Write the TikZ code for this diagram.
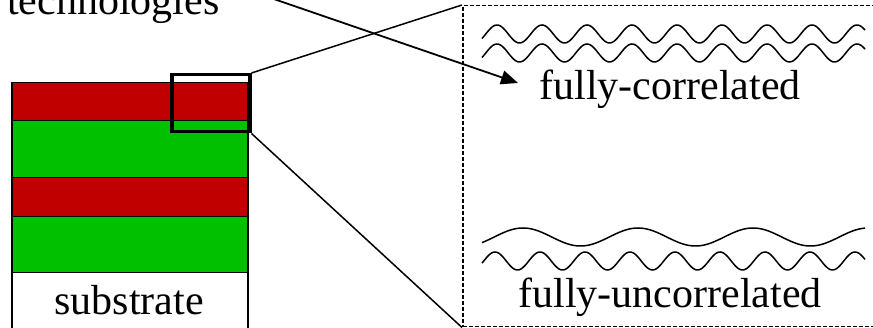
\documentclass[tikz,border=0pt]{standalone}
\usepackage{fontspec}
\setmainfont{Liberation Serif}
\newfontfamily\tnr{Liberation Serif}
\usetikzlibrary{arrows.meta}
\definecolor{layred}{HTML}{C00000}
\definecolor{laygreen}{HTML}{00C000}
\begin{document}
\begin{tikzpicture}[x=1pt,y=-1pt,
  layer/.style={draw=black, line width=1.5pt, minimum width=236pt, inner sep=0pt, anchor=north west},
  lbl/.style={font=\tnr\fontsize{42}{50}\selectfont, inner sep=0pt, anchor=base},
  conn/.style={line width=1.5pt},
  wave/.style={line width=1.5pt, smooth}]
\useasboundingbox (0,0) rectangle (873,328);
\clip (0,0) rectangle (873,328);
% layer stack
\node[layer, fill=layred, minimum height=38pt] (r1) at (11,82) {};
\node[layer, fill=laygreen, minimum height=57pt] (g1) at (11,120) {};
\node[layer, fill=layred, minimum height=39pt] (r2) at (11,177) {};
\node[layer, fill=laygreen, minimum height=56pt] (g2) at (11,216) {};
\node[layer, fill=white, minimum height=75pt] (sub) at (11,272) {};
\node[lbl] (subt) at (129,315) {substrate};
% zoom box
\node[draw=black, line width=3.5pt, minimum width=78pt, minimum height=57pt, inner sep=0pt, anchor=north west] (zoom) at (170,73) {};
% detail box
\node[draw=black, dashed, dash pattern=on 4pt off 2pt, line width=1.5pt, minimum width=430pt, minimum height=321pt, inner sep=0pt, anchor=north west] (detail) at (462,5) {};
\draw[conn] (zoom.north east) -- (detail.north west);
\draw[conn] (zoom.south east) -- (detail.south west);
% texts
\node[lbl, anchor=base west] (tech) at (7,15) {technologies};
\node[lbl] (fc) at (670,100) {fully-correlated};
\node[lbl] (fu) at (670,308) {fully-uncorrelated};
% arrow
\coordinate (src) at (268,-3);
\coordinate (tip) at (518,83);
\draw[line width=1.8pt, -{Stealth[length=17pt,width=14pt,inset=0pt]}] (src) -- (tip);
% correlated waves
\draw[wave] plot[domain=482:865, samples=300] (\x, {34 - 9*sin(8*(\x-497) + 90)});
\draw[wave] plot[domain=482:865, samples=300] (\x, {53 - 9*sin(8*(\x-497) + 90)});
% uncorrelated waves
\draw[wave] plot[domain=482:865, samples=300] (\x, {237 - 9*sin(3.1304*(\x-523) + 90)});
\draw[wave] plot[domain=482:865, samples=300] (\x, {261 - 9*sin(8*(\x-495) + 90)});
\end{tikzpicture}
\end{document}
